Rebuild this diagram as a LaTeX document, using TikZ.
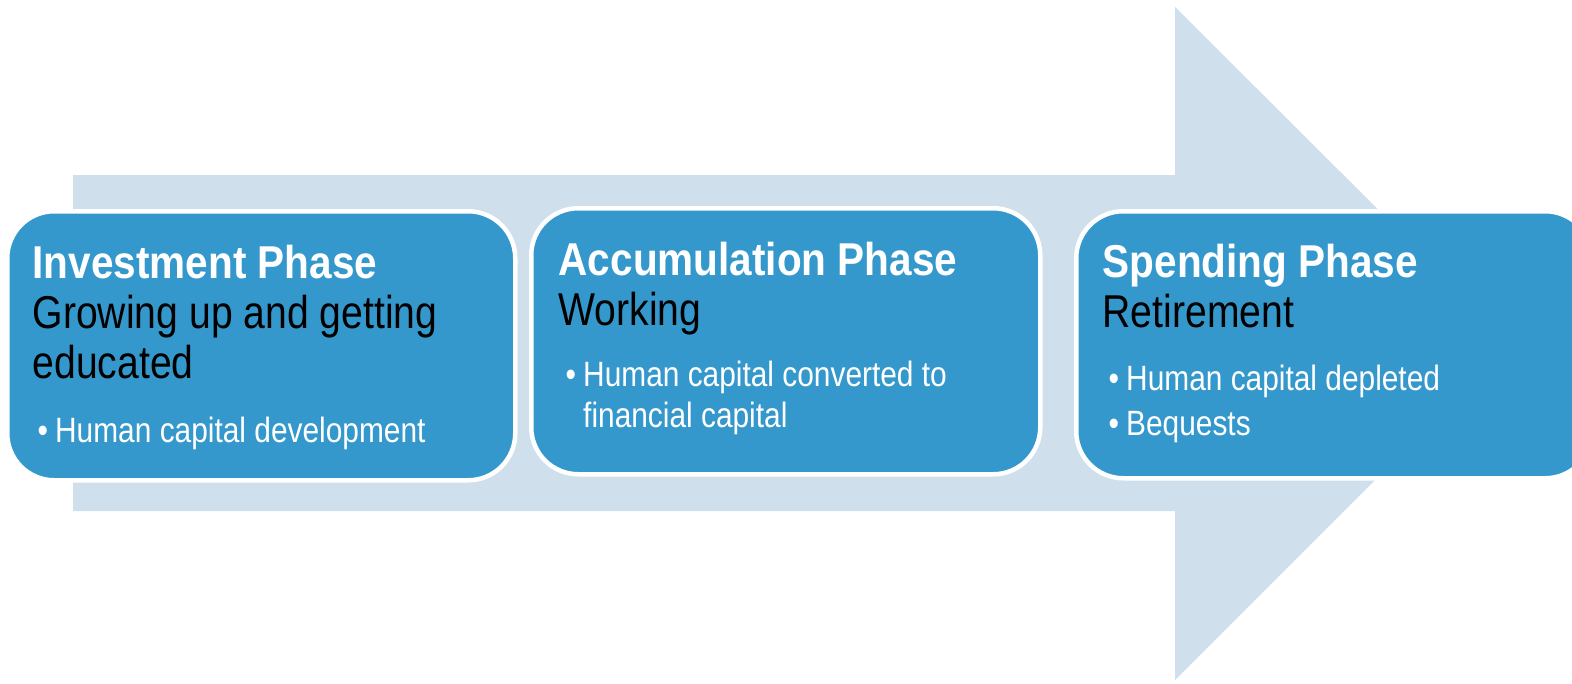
\documentclass[tikz,border=0pt]{standalone}
\usepackage{fontspec}
\setmainfont{Liberation Sans}[FakeStretch=0.85]
\newfontfamily\headfont{Liberation Sans}[FakeStretch=0.88]
\usetikzlibrary{positioning}
\definecolor{shaftblue}{RGB}{207,224,236}
\definecolor{phaseblue}{RGB}{53,152,204}
\newcommand{\bul}{\makebox[1.75mm][l]{\textbullet}}
\newcommand{\plain}{\normalfont\fontsize{13.1}{14.2}\selectfont\color{black}}

\begin{document}
\begin{tikzpicture}[x=0.1mm,y=-0.1mm,
  phase/.style={draw=white,line width=.45mm,fill=phaseblue,rounded corners=4.7mm,
    inner sep=0pt,anchor=north west},
  head/.style={anchor=base west,inner sep=0pt,align=left,text=white,
    font=\fontsize{13.1}{14.2}\selectfont\headfont\bfseries},
  items/.style={anchor=base west,inner sep=0pt,align=left,text=white,
    font=\fontsize{10}{11.4}\selectfont}]
 \useasboundingbox[fill=white] (0,0) rectangle (1572,683);
 \fill[shaftblue] (73,175) -- (1175,175) -- (1175,7) -- (1512,343)
   -- (1175,680) -- (1175,511) -- (73,511) -- cycle;
 \node[phase,minimum width=50.8mm,minimum height=26.9mm] (invest) at (5,209) {};
 \node[phase,minimum width=50.9mm,minimum height=26.6mm] (accum) at (529,206) {};
 \node[phase,minimum width=51.6mm,minimum height=26.7mm] (spend) at (1074,209) {};
 \node[head] (investhead) at (32,378) {Investment Phase\\
   \plain Growing up and getting\\\plain educated};
 \node[items] (investitems) at (37,442) {\bul Human capital development};
 \node[head] (accumhead) at (558,325) {Accumulation Phase\\
   \plain Working};
 \node[items] (accumitems) at (565,427) {\bul Human capital converted to\\
   \hspace{1.75mm}financial capital};
 \node[head] (spendhead) at (1102,327) {Spending Phase\\
   \plain Retirement};
 \node[items] (spenditems) at (1108,435) {\bul Human capital depleted\\[1.3pt]
   \bul Bequests};
\end{tikzpicture}
\end{document}
